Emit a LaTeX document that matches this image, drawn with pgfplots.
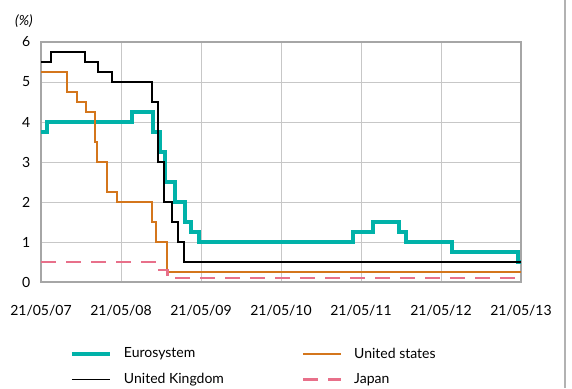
\documentclass[border=0pt]{standalone}
\usepackage{pgfplots}
\pgfplotsset{compat=1.18}
\usepackage{fontspec}
\setmainfont{Lato}
\definecolor{euro}{HTML}{00B2A9}
\definecolor{usa}{HTML}{D4761C}
\definecolor{jpn}{HTML}{E8708A}
\begin{document}
\fontsize{14}{16}\selectfont
\begin{tikzpicture}[x=1pt,y=1pt]
\useasboundingbox (0,0) rectangle (572,388);
\draw[black!30, line width=1.5pt] (565,0) -- (565,388);
\node[font=\fontsize{14}{16}\selectfont\itshape] at (24,367) {(\%)};
\begin{axis}[
  at={(41pt,106pt)}, anchor=south west,
  width=480pt, height=240pt, scale only axis,
  xmin=0, xmax=6, ymin=0, ymax=6,
  xtick={0,1,2,3,4,5,6},
  xticklabels={21/05/07,21/05/08,21/05/09,21/05/10,21/05/11,21/05/12,21/05/13},
  ytick={0,1,2,3,4,5,6},
  major tick length=0pt,
  grid=major,
  major grid style={black!22, line width=0.9pt},
  axis line style={black!35, line width=1.3pt},
  /pgf/number format/assume math mode=true,
  tick label style={font=\fontsize{14}{16}\selectfont},
  yticklabel style={xshift=-6pt},
  xticklabel style={yshift=-18pt},
  legend columns=2,
  legend style={at={(0.06,-0.265)}, anchor=north west, draw=none, fill=none,
    font=\fontsize{14}{16}\selectfont, row sep=9pt, inner sep=0pt,
    /tikz/every odd column/.append style={column sep=10pt},
    /tikz/every even column/.append style={column sep=0pt}},
  legend cell align=left,
  legend image code/.code={\draw[#1] (0pt,0pt) -- (38pt,0pt);},
]
\addplot[const plot, euro, line width=4pt] coordinates {
(0,3.75)(0.07,4)(1.134,4.25)(1.40,3.75)(1.49,3.25)(1.556,2.5)(1.67,2)(1.805,1.5)(1.88,1.25)(1.98,1)(3.896,1.25)(4.145,1.5)(4.47,1.25)(4.567,1)(5.14,0.75)(5.964,0.5)(6,0.5)};
\addlegendentry{\makebox[176pt][l]{Eurosystem}}
\addplot[const plot, usa, line width=1.8pt] coordinates {
(0,5.25)(0.329,4.75)(0.446,4.5)(0.559,4.25)(0.674,3.5)(0.695,3)(0.827,2.25)(0.945,2)(1.383,1.5)(1.441,1)(1.572,0.25)(6,0.25)};
\addlegendentry{United states}
\addplot[const plot, black, line width=1.8pt] coordinates {
(0,5.5)(0.123,5.75)(0.545,5.5)(0.717,5.25)(0.89,5)(1.383,4.5)(1.462,3)(1.539,2)(1.636,1.5)(1.713,1)(1.79,0.5)(6,0.5)};
\addlegendentry{\makebox[176pt][l]{United Kingdom}}
\addplot[const plot, jpn, line width=2.2pt, dash pattern=on 15pt off 10pt] coordinates {
(0,0.5)(1.447,0.3)(1.58,0.1)(6,0.1)};
\addlegendentry{Japan}
\end{axis}
\end{tikzpicture}
\end{document}
